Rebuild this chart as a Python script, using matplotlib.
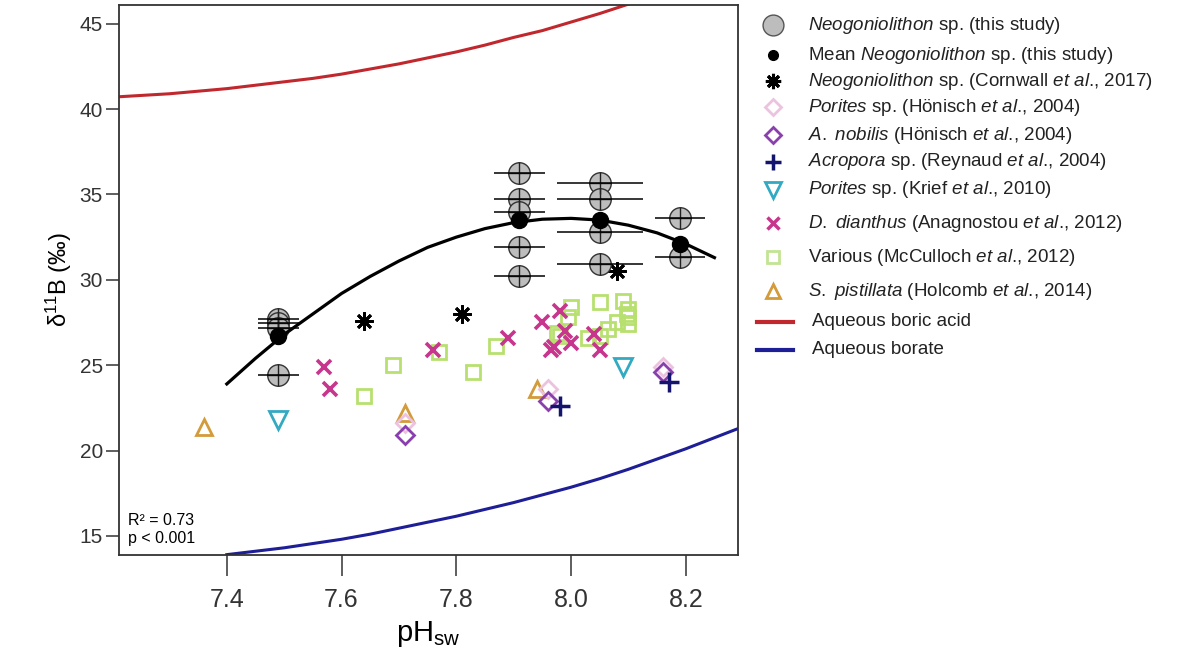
import matplotlib.pyplot as plt
from matplotlib.lines import Line2D

plt.rcParams['font.family'] = ['Liberation Sans', 'DejaVu Sans']
plt.rcParams['mathtext.fontset'] = 'custom'
plt.rcParams['mathtext.rm'] = 'Liberation Sans'
plt.rcParams['mathtext.it'] = 'Liberation Sans:italic'
plt.rcParams['mathtext.bf'] = 'Liberation Sans:bold'

# Neogoniolithon sp. (this study), individual samples
neo_ph = [7.49, 7.49, 7.49, 7.49,
          7.91, 7.91, 7.91, 7.91, 7.91,
          8.05, 8.05, 8.05, 8.05,
          8.19, 8.19]
neo_d11b = [27.7, 27.45, 27.2, 24.45,
            36.25, 34.75, 34.0, 31.95, 30.2,
            35.65, 34.75, 32.8, 30.9,
            33.6, 31.35]
neo_xerr = [0.035, 0.035, 0.035, 0.035,
            0.045, 0.045, 0.045, 0.045, 0.045,
            0.075, 0.075, 0.075, 0.075,
            0.043, 0.043]

# treatment means
mean_ph = [7.49, 7.91, 8.05, 8.19]
mean_d11b = [26.7, 33.5, 33.5, 32.1]

# fitted curve
fit_ph = [7.40, 7.45, 7.50, 7.55, 7.60, 7.65, 7.70, 7.75, 7.80,
          7.85, 7.90, 7.95, 8.00, 8.05, 8.10, 8.15, 8.20, 8.25]
fit_d11b = [23.9, 25.4, 26.8, 28.0, 29.2, 30.2, 31.1, 31.9, 32.5,
            33.0, 33.35, 33.55, 33.6, 33.5, 33.2, 32.75, 32.1, 31.3]

# literature data
cornwall_ph = [7.64, 7.81, 8.08]
cornwall_d11b = [27.6, 28.0, 30.5]

honisch_por_ph = [7.71, 7.96, 8.16]
honisch_por_d11b = [21.6, 23.6, 24.9]

honisch_nob_ph = [7.71, 7.96, 8.16]
honisch_nob_d11b = [20.9, 22.9, 24.6]

reynaud_ph = [7.98, 8.17]
reynaud_d11b = [22.6, 24.0]

krief_ph = [7.49, 8.09]
krief_d11b = [21.8, 24.9]

anag_ph = [7.57, 7.58, 7.76, 7.89, 7.95, 7.98, 7.99, 7.97, 7.965, 8.00, 8.04, 8.05]
anag_d11b = [24.9, 23.6, 25.9, 26.6, 27.5, 28.15, 27.0, 26.05, 25.9, 26.3, 26.8, 25.9]

mcc_ph = [7.64, 7.69, 7.77, 7.83, 7.87, 7.975, 7.98, 7.995, 8.00, 8.03,
          8.05, 8.05, 8.065, 8.08, 8.09, 8.097, 8.10, 8.10, 8.10]
mcc_d11b = [23.2, 25.0, 25.8, 24.6, 26.1, 26.9, 26.7, 27.85, 28.4, 26.6,
            26.7, 28.7, 27.1, 27.5, 28.75, 28.0, 27.4, 27.8, 28.3]

holcomb_ph = [7.36, 7.71, 7.94]
holcomb_d11b = [21.35, 22.2, 23.6]

# aqueous species curves
boric_ph = [7.20, 7.25, 7.30, 7.35, 7.40, 7.45, 7.50, 7.55, 7.60, 7.65,
            7.70, 7.75, 7.80, 7.85, 7.90, 7.95, 8.00, 8.05, 8.10]
boric_d11b = [40.7, 40.8, 40.9, 41.05, 41.2, 41.4, 41.6, 41.8, 42.05, 42.35,
              42.65, 43.0, 43.35, 43.75, 44.2, 44.6, 45.1, 45.6, 46.15]
borate_ph = [7.40, 7.45, 7.50, 7.55, 7.60, 7.65, 7.70, 7.75, 7.80, 7.85,
             7.90, 7.95, 8.00, 8.05, 8.10, 8.15, 8.20, 8.25, 8.30]
borate_d11b = [13.9, 14.1, 14.3, 14.55, 14.8, 15.1, 15.45, 15.8, 16.15, 16.55,
               16.95, 17.4, 17.85, 18.35, 18.9, 19.5, 20.1, 20.75, 21.4]

xticks = [7.4, 7.6, 7.8, 8.0, 8.2]
xtick_labels = ['7.4', '7.6', '7.8', '8.0', '8.2']
yticks = [15, 20, 25, 30, 35, 40, 45]

RED = '#c0282e'
BLUE = '#1e1e96'
GREY = '#bdbdbd'

fig = plt.figure(figsize=(11.98, 6.66), dpi=100)
ax = fig.add_axes([0.0993, 0.1667, 0.5167, 0.8258])

ax.plot(boric_ph, boric_d11b, color=RED, lw=2.2, zorder=2)
ax.plot(borate_ph, borate_d11b, color=BLUE, lw=2.2, zorder=2)

ax.plot(mcc_ph, mcc_d11b, ls='none', marker='s', ms=10, mfc='none', mec='#b7e070', mew=2, zorder=3)
ax.plot(holcomb_ph, holcomb_d11b, ls='none', marker='^', ms=12, mfc='none', mec='#d39b3a', mew=2, zorder=3)
ax.plot(honisch_por_ph, honisch_por_d11b, ls='none', marker='D', ms=9, mfc='none', mec='#ecc3df', mew=2, zorder=3)
ax.plot(honisch_nob_ph, honisch_nob_d11b, ls='none', marker='D', ms=9, mfc='none', mec='#8a3fae', mew=2, zorder=3)
ax.plot(krief_ph, krief_d11b, ls='none', marker='v', ms=13, mfc='none', mec='#33a9c2', mew=2, zorder=3)
ax.plot(anag_ph, anag_d11b, ls='none', marker='x', ms=10.5, mec='#c8358c', mew=2.6, zorder=3)
ax.plot(reynaud_ph, reynaud_d11b, ls='none', marker='+', ms=15, mec='#14146e', mew=2.5, zorder=3)
ax.plot(cornwall_ph, cornwall_d11b, ls='none', marker=(8, 2, 0), ms=13, mec='black', mew=2, zorder=3)

ax.plot(neo_ph, neo_d11b, ls='none', marker='o', ms=15.5, mfc=GREY, mec='#333333', mew=1, zorder=4)
ax.plot(neo_ph, neo_d11b, ls='none', marker='+', ms=15.5, mec='#222222', mew=1, zorder=5)
ax.errorbar(neo_ph, neo_d11b, xerr=neo_xerr, fmt='none', ecolor='black', elinewidth=1.1,
            capsize=0, zorder=5)
ax.plot(fit_ph, fit_d11b, color='black', lw=2.3, zorder=6)
ax.plot(mean_ph, mean_d11b, ls='none', marker='o', ms=11.5, mfc='black', mec='black', zorder=7)

ax.set_xlim(7.212, 8.291)
ax.set_ylim(13.88, 46.1)
ax.set_xticks(xticks)
ax.set_xticklabels(xtick_labels, fontsize=18)
ax.set_yticks(yticks)
ax.tick_params(axis='y', labelsize=15, length=9.5, width=1.1, pad=2, colors='#333333')
ax.tick_params(axis='x', length=15, width=1.1, pad=9, colors='#333333')
for s in ax.spines.values():
    s.set_color('#333333')
    s.set_linewidth(1.3)

ax.set_xlabel('pH$_{\\mathregular{sw}}$', fontsize=21, labelpad=5)
ax.set_ylabel('δ$^{11}$B (‰)', fontsize=17, labelpad=4)

ax.text(0.0145, 0.016, 'R² = 0.73\np < 0.001', transform=ax.transAxes,
        fontsize=11.5, va='bottom', ha='left', linespacing=1.25)

# legend drawn by hand so the row spacing follows the original
legend_rows = [
    (25, dict(marker='o', ms=15, mfc=GREY, mec='#555555', mew=1),
     r'$\mathit{Neogoniolithon}$ sp. (this study)'),
    (55, dict(marker='o', ms=7, mfc='black', mec='black'),
     r'Mean $\mathit{Neogoniolithon}$ sp. (this study)'),
    (81, dict(marker=(8, 2, 0), ms=11, mec='black', mew=2.2),
     r'$\mathit{Neogoniolithon}$ sp. (Cornwall $\mathit{et\ al}$., 2017)'),
    (107, dict(marker='D', ms=8, mfc='none', mec='#ecc3df', mew=2),
     r'$\mathit{Porites}$ sp. (Hönisch $\mathit{et\ al}$., 2004)'),
    (135, dict(marker='D', ms=8, mfc='none', mec='#8a3fae', mew=2),
     r'$\mathit{A.\ nobilis}$ (Hönisch $\mathit{et\ al}$., 2004)'),
    (162, dict(marker='+', ms=12, mec='#14146e', mew=2.5),
     r'$\mathit{Acropora}$ sp. (Reynaud $\mathit{et\ al}$., 2004)'),
    (190, dict(marker='v', ms=11, mfc='none', mec='#33a9c2', mew=2),
     r'$\mathit{Porites}$ sp. (Krief $\mathit{et\ al}$., 2010)'),
    (223, dict(marker='x', ms=9, mec='#c8358c', mew=2.5),
     r'$\mathit{D.\ dianthus}$ (Anagnostou $\mathit{et\ al}$., 2012)'),
    (257, dict(marker='s', ms=9, mfc='none', mec='#c3e493', mew=2),
     r'Various (McCulloch $\mathit{et\ al}$., 2012)'),
    (291, dict(marker='^', ms=10, mfc='none', mec='#d39b3a', mew=2),
     r'$\mathit{S.\ pistillata}$ (Holcomb $\mathit{et\ al}$., 2014)'),
]
W, H = 1198.0, 666.0
for ypx, style, label in legend_rows:
    yf = 1 - ypx / H
    fig.add_artist(Line2D([773 / W], [yf], transform=fig.transFigure, ls='none', **style))
    fig.text(808 / W, yf, label, fontsize=13.5, va='center', ha='left', color='#222222')

for ypx, col, label in [(322, RED, 'Aqueous boric acid'), (350, BLUE, 'Aqueous borate')]:
    yf = 1 - ypx / H
    fig.add_artist(Line2D([757 / W, 793 / W], [yf, yf], transform=fig.transFigure,
                          color=col, lw=3))
    fig.text(812 / W, yf, label, fontsize=13.5, va='center', ha='left', color='#222222')

fig.savefig('out.png', dpi=100)
